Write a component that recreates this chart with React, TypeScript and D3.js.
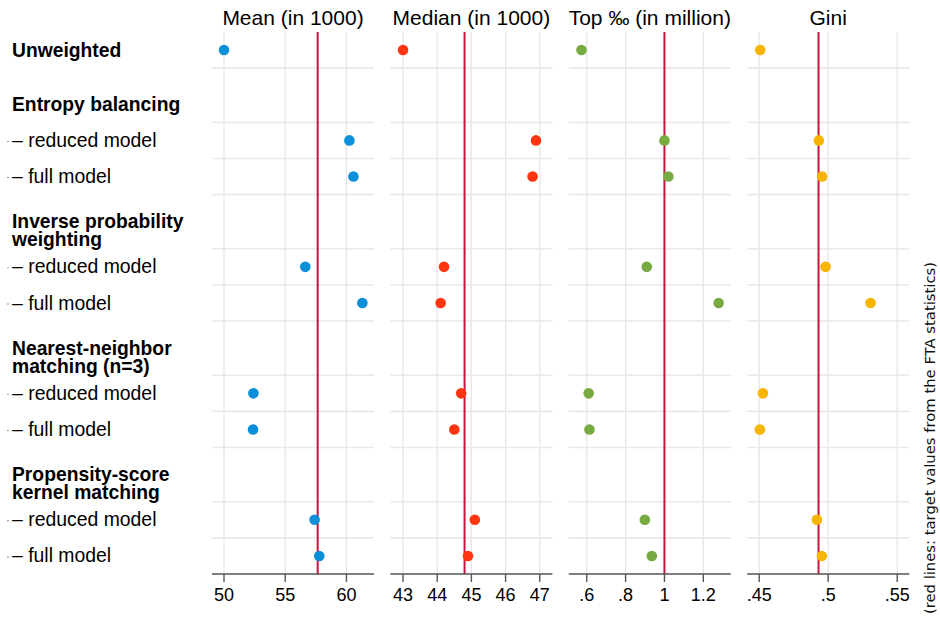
import * as d3 from 'd3';

// rows: unweighted, then reduced/full for each method
const methods = [
  ['Entropy balancing'],
  ['Inverse probability', 'weighting'],
  ['Nearest-neighbor', 'matching (n=3)'],
  ['Propensity-score', 'kernel matching'],
];
const models = ['– reduced model', '– full model'];

const panelTitles = ['Mean (in 1000)', 'Median (in 1000)', 'Top ‰ (in million)', 'Gini'];
const meanVals = [50.0, 60.24, 60.57, 56.64, 61.3, 52.4, 52.37, 57.4, 57.78];
const medianVals = [43.0, 46.89, 46.79, 44.2, 44.1, 44.7, 44.5, 45.1, 44.9];
const topVals = [0.573, 1.0, 1.02, 0.909, 1.279, 0.61, 0.614, 0.899, 0.935];
const giniVals = [0.4507, 0.4932, 0.4956, 0.4981, 0.5307, 0.4527, 0.4505, 0.4918, 0.4954];
const targets = [57.65, 44.8, 1.0, 0.493];
const domains: [number, number][] = [[49.02, 62.25], [42.63, 47.37], [0.5077, 1.3415], [0.4413, 0.5587]];
const ticks = [[50, 55, 60], [43, 44, 45, 46, 47], [0.6, 0.8, 1, 1.2], [0.45, 0.5, 0.55]];
const tickLabels = [['50', '55', '60'], ['43', '44', '45', '46', '47'], ['.6', '.8', '1', '1.2'], ['.45', '.5', '.55']];
const colors = ['#0b8fd9', '#ff3512', '#77ab41', '#f7b500'];
const series = [meanVals, medianVals, topVals, giniVals];

const W = 940, H = 617;
const top = 32, bottom = 574;
const panelLeft = 212, panelW = 162, panelStep = 178.4;
const font = '"Liberation Sans", Arial, Helvetica, sans-serif';

export default function App() {
  // vertical layout in row units (header blocks are 1.5 units tall)
  const y = d3.scaleLinear().domain([0, 15]).range([top, bottom]);
  const rowPos: number[] = [0.5];
  const gridPos: number[] = [1];
  const headerPos: number[] = [];
  methods.forEach((_, k) => {
    const s = 1 + k * 3.5;
    headerPos.push(s + 1);
    rowPos.push(s + 2, s + 3);
    gridPos.push(s + 1.5, s + 2.5);
    if (k < methods.length - 1) gridPos.push(s + 3.5);
  });

  return (
    <svg width={W} height={H} style={{ position: 'absolute', left: 0, top: 0, background: '#fff' }}>
      {/* left labels */}
      <g fontFamily={font} fill="#000">
        <text x={12} y={y(0.5) + 6.5} fontSize={19.3} fontWeight="bold">Unweighted</text>
        {methods.map((lines, k) => {
          const cy = y(headerPos[k]);
          const lh = 18;
          const y0 = cy - ((lines.length - 1) * lh) / 2 + 6.5;
          return (
            <g key={k}>
              <text x={12} y={y0} fontSize={19.3} fontWeight="bold">
                {lines.map((l, i) => (
                  <tspan key={i} x={12} dy={i === 0 ? 0 : lh}>{l}</tspan>
                ))}
              </text>
              {models.map((m, j) => (
                <g key={m}>
                  <circle cx={8} cy={y(rowPos[1 + k * 2 + j]) + 1} r={0.7} fill="#666" />
                  <text x={12} y={y(rowPos[1 + k * 2 + j]) + 6.5} fontSize={19.4}>{m}</text>
                </g>
              ))}
            </g>
          );
        })}
      </g>

      {panelTitles.map((title, p) => {
        const x0 = panelLeft + p * panelStep;
        const x = d3.scaleLinear().domain(domains[p]).range([x0, x0 + panelW]);
        return (
          <g key={title}>
            <text x={x0 + panelW / 2} y={25} textAnchor="middle" fontFamily={font} fontSize={21}>{title}</text>
            {ticks[p].map(t => (
              <line key={t} x1={x(t)} x2={x(t)} y1={top} y2={bottom} stroke="#e6e6e6" strokeWidth={1.3} />
            ))}
            {gridPos.map(g => (
              <line key={g} x1={x0} x2={x0 + panelW} y1={y(g)} y2={y(g)} stroke="#e9e9e9" strokeWidth={1.6} />
            ))}
            <line x1={x(targets[p])} x2={x(targets[p])} y1={top} y2={bottom} stroke="#c8143f" strokeWidth={2} />
            {series[p].map((v, i) => (
              <circle key={i} cx={x(v)} cy={y(rowPos[i])} r={5.3} fill={colors[p]} />
            ))}
            <line x1={x0} x2={x0 + panelW} y1={bottom} y2={bottom} stroke="#555" strokeWidth={1.4} />
            {ticks[p].map((t, i) => (
              <g key={t}>
                <line x1={x(t)} x2={x(t)} y1={bottom} y2={bottom + 8} stroke="#555" strokeWidth={1.4} />
                <text x={x(t)} y={601} textAnchor="middle" fontFamily={font} fontSize={18}>{tickLabels[p][i]}</text>
              </g>
            ))}
          </g>
        );
      })}

      <text
        transform={`translate(935,438) rotate(-90)`}
        textAnchor="middle"
        fontFamily='"DejaVu Sans", sans-serif'
        fontSize={14.8}
        fill="#111"
      >
        (red lines: target values from the FTA statistics)
      </text>
    </svg>
  );
}
